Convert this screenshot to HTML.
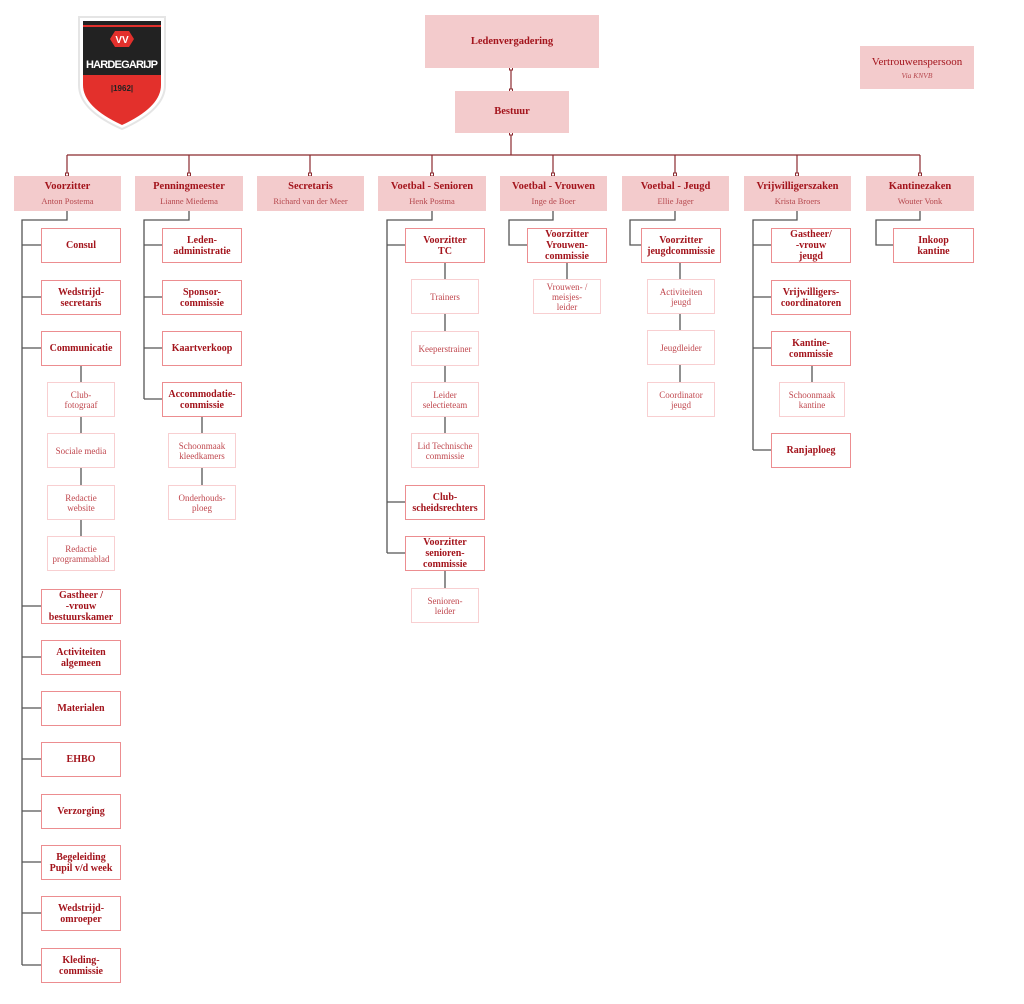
<!DOCTYPE html>
<html><head><meta charset="utf-8"><style>
body{margin:0;width:1024px;height:1004px;background:#fff;position:relative;overflow:hidden;font-family:"Liberation Serif",serif}
.n{position:absolute;box-sizing:border-box;display:flex;flex-direction:column;align-items:center;justify-content:center;text-align:center}
.h{background:#f3cbcc;color:#a3141c}
.h b{font-size:10.5px;line-height:12px}
.h i{font-style:normal;font-size:8.5px;color:#b5474d;margin-top:3px}
.b{background:#fff;border:1.3px solid #ec8d90;color:#a3141c;font-weight:800;font-size:10px;line-height:11px;width:80px;height:35px}
.c{background:#fff;border:1px solid #f8cfd1;color:#c0474e;font-size:9px;line-height:10px;width:68px;height:35px}
svg{position:absolute;left:0;top:0}
</style></head><body>
<svg width="1024" height="1004">
<g fill="none" stroke="#8b2a2f" stroke-width="1.2">
<path d="M511 68V91M511 133V155M67 155H920M67 155V176M189 155V176M310 155V176M432 155V176M553 155V176M675 155V176M797 155V176M920 155V176"/>
</g>
<g fill="#fff" stroke="#8b2a2f" stroke-width="1"><rect x="509.5" y="67" width="3" height="3"/><rect x="509.5" y="89" width="3" height="3"/><rect x="509.5" y="132" width="3" height="3"/>
<rect x="65.5" y="173" width="3" height="3"/><rect x="187.5" y="173" width="3" height="3"/><rect x="308.5" y="173" width="3" height="3"/><rect x="430.5" y="173" width="3" height="3"/><rect x="551.5" y="173" width="3" height="3"/><rect x="673.5" y="173" width="3" height="3"/><rect x="795.5" y="173" width="3" height="3"/><rect x="918.5" y="173" width="3" height="3"/></g>
<g fill="none" stroke="#555" stroke-width="1.3">
<path d="M67 210V220H22V965M22 245H41M22 297H41M22 348H41M22 606H41M22 657H41M22 708H41M22 759H41M22 811H41M22 862H41M22 913H41M22 965H41M81 365V536"/>
<path d="M189 210V220H144V399M144 245H162M144 297H162M144 348H162M144 399H162M202 416V485"/>
<path d="M432 210V220H387V553M387 245H405M387 502H405M387 553H405M445 262V433M445 570V588"/>
<path d="M553 210V220H509V245H527M567 262V279"/>
<path d="M675 210V220H630V245H641M680 262V382"/>
<path d="M797 210V220H753V450M753 245H771M753 297H771M753 348H771M753 450H771M812 365V382"/>
<path d="M920 210V220H876V245H893"/>
</g>
</svg>

<!-- logo -->
<svg width="90" height="116" style="left:77px;top:15px" viewBox="0 0 90 116">
<path d="M2 2H88V70Q88 95 45 114Q2 95 2 70Z" fill="#fff" stroke="#e5e5e5" stroke-width="2"/>
<path d="M6 6H84V70Q84 92 45 110Q6 92 6 70Z" fill="#e3302c"/>
<rect x="6" y="6" width="78" height="4" fill="#222"/>
<rect x="6" y="12" width="78" height="48" fill="#222"/>
<polygon points="38,16 52,16 57,24 52,32 38,32 33,24" fill="#e3302c"/>
<text x="45" y="28" font-family="Liberation Sans" font-weight="bold" font-size="10" fill="#fff" text-anchor="middle">VV</text>
<text x="45" y="53" font-family="Liberation Sans" font-weight="bold" font-size="11" fill="#fff" text-anchor="middle" textLength="72">HARDEGARIJP</text>
<text x="45" y="76" font-family="Liberation Sans" font-weight="bold" font-size="8" fill="#222" text-anchor="middle">|1962|</text>
</svg>

<div class="n h" style="left:425px;top:15px;width:174px;height:53px"><b>Ledenvergadering</b></div>
<div class="n h" style="left:455px;top:91px;width:114px;height:42px"><b>Bestuur</b></div>
<div class="n h" style="left:860px;top:46px;width:114px;height:43px"><b style="font-weight:normal;font-size:11px">Vertrouwenspersoon</b><i style="font-style:italic;margin-top:3px;font-size:7.5px">Via KNVB</i></div>

<div class="n h" style="left:14px;top:176px;width:107px;height:35px"><b>Voorzitter</b><i>Anton Postema</i></div>
<div class="n h" style="left:135px;top:176px;width:108px;height:35px"><b>Penningmeester</b><i>Lianne Miedema</i></div>
<div class="n h" style="left:257px;top:176px;width:107px;height:35px"><b>Secretaris</b><i>Richard van der Meer</i></div>
<div class="n h" style="left:378px;top:176px;width:108px;height:35px"><b>Voetbal - Senioren</b><i>Henk Postma</i></div>
<div class="n h" style="left:500px;top:176px;width:107px;height:35px"><b>Voetbal - Vrouwen</b><i>Inge de Boer</i></div>
<div class="n h" style="left:622px;top:176px;width:107px;height:35px"><b>Voetbal - Jeugd</b><i>Ellie Jager</i></div>
<div class="n h" style="left:744px;top:176px;width:107px;height:35px"><b>Vrijwilligerszaken</b><i>Krista Broers</i></div>
<div class="n h" style="left:866px;top:176px;width:108px;height:35px"><b>Kantinezaken</b><i>Wouter Vonk</i></div>

<!-- Voorzitter -->
<div class="n b" style="left:41px;top:228px">Consul</div>
<div class="n b" style="left:41px;top:280px">Wedstrijd-<br>secretaris</div>
<div class="n b" style="left:41px;top:331px">Communicatie</div>
<div class="n c" style="left:47px;top:382px">Club-<br>fotograaf</div>
<div class="n c" style="left:47px;top:433px">Sociale media</div>
<div class="n c" style="left:47px;top:485px">Redactie<br>website</div>
<div class="n c" style="left:47px;top:536px">Redactie<br>programmablad</div>
<div class="n b" style="left:41px;top:589px">Gastheer /<br>-vrouw<br>bestuurskamer</div>
<div class="n b" style="left:41px;top:640px">Activiteiten<br>algemeen</div>
<div class="n b" style="left:41px;top:691px">Materialen</div>
<div class="n b" style="left:41px;top:742px">EHBO</div>
<div class="n b" style="left:41px;top:794px">Verzorging</div>
<div class="n b" style="left:41px;top:845px">Begeleiding<br>Pupil v/d week</div>
<div class="n b" style="left:41px;top:896px">Wedstrijd-<br>omroeper</div>
<div class="n b" style="left:41px;top:948px">Kleding-<br>commissie</div>

<!-- Penningmeester -->
<div class="n b" style="left:162px;top:228px">Leden-<br>administratie</div>
<div class="n b" style="left:162px;top:280px">Sponsor-<br>commissie</div>
<div class="n b" style="left:162px;top:331px">Kaartverkoop</div>
<div class="n b" style="left:162px;top:382px">Accommodatie-<br>commissie</div>
<div class="n c" style="left:168px;top:433px">Schoonmaak<br>kleedkamers</div>
<div class="n c" style="left:168px;top:485px">Onderhouds-<br>ploeg</div>

<!-- Senioren -->
<div class="n b" style="left:405px;top:228px">Voorzitter<br>TC</div>
<div class="n c" style="left:411px;top:279px">Trainers</div>
<div class="n c" style="left:411px;top:331px">Keeperstrainer</div>
<div class="n c" style="left:411px;top:382px">Leider<br>selectieteam</div>
<div class="n c" style="left:411px;top:433px">Lid Technische<br>commissie</div>
<div class="n b" style="left:405px;top:485px">Club-<br>scheidsrechters</div>
<div class="n b" style="left:405px;top:536px">Voorzitter<br>senioren-<br>commissie</div>
<div class="n c" style="left:411px;top:588px">Senioren-<br>leider</div>

<!-- Vrouwen -->
<div class="n b" style="left:527px;top:228px">Voorzitter<br>Vrouwen-<br>commissie</div>
<div class="n c" style="left:533px;top:279px">Vrouwen- /<br>meisjes-<br>leider</div>

<!-- Jeugd -->
<div class="n b" style="left:641px;top:228px">Voorzitter<br>jeugdcommissie</div>
<div class="n c" style="left:647px;top:279px">Activiteiten<br>jeugd</div>
<div class="n c" style="left:647px;top:330px">Jeugdleider</div>
<div class="n c" style="left:647px;top:382px">Coordinator<br>jeugd</div>

<!-- Vrijwilligers -->
<div class="n b" style="left:771px;top:228px">Gastheer/<br>-vrouw<br>jeugd</div>
<div class="n b" style="left:771px;top:280px">Vrijwilligers-<br>coordinatoren</div>
<div class="n b" style="left:771px;top:331px">Kantine-<br>commissie</div>
<div class="n c" style="left:779px;top:382px;width:66px">Schoonmaak<br>kantine</div>
<div class="n b" style="left:771px;top:433px">Ranjaploeg</div>

<!-- Kantine -->
<div class="n b" style="left:893px;top:228px;width:81px">Inkoop<br>kantine</div>
</body></html>
